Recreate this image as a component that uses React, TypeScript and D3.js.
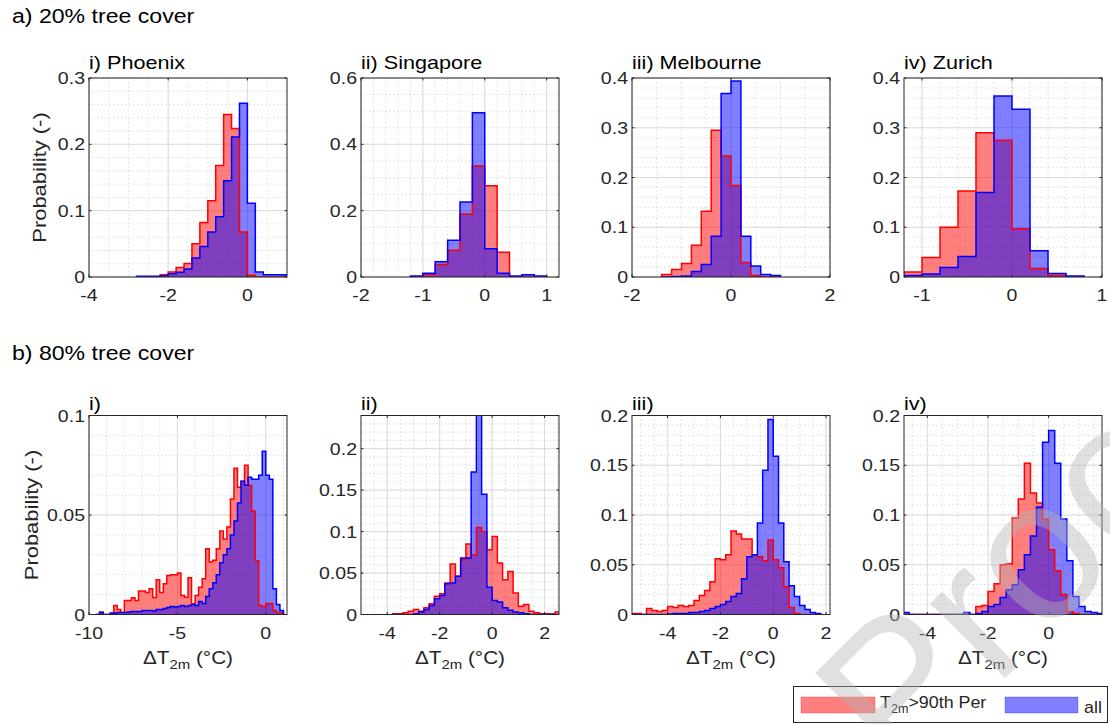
import React from 'react';
import * as d3 from 'd3';

// ---- data: probability per 0.2 degC bin, "hot" = T2m > 90th percentile, "all" = all hours
const BIN = 0.2;

// a) 20% tree cover
const phx20Start = -2.8;
const phx20Hot = [0, 0, 0, 0.0035, 0.0075, 0.0145, 0.0205, 0.05, 0.082, 0.115, 0.168, 0.245, 0.224, 0.068, 0.0025, 0, 0, 0, 0];
const phx20All = [0.001, 0.001, 0.001, 0.002, 0.005, 0.007, 0.012, 0.0285, 0.046, 0.068, 0.091, 0.145, 0.211, 0.262, 0.111, 0.0075, 0.0035, 0.0035, 0.0035];

const sgp20Start = -1.2;
const sgp20Hot = [0.001, 0.008, 0.038, 0.081, 0.19, 0.335, 0.275, 0.075, 0.001, 0, 0];
const sgp20All = [0.003, 0.011, 0.046, 0.111, 0.226, 0.495, 0.085, 0.011, 0.003, 0.007, 0.003];

const mel20Start = -1.4;
const mel20Hot = [0.005, 0.015, 0.027, 0.064, 0.132, 0.295, 0.243, 0.184, 0.029, 0.003, 0, 0];
const mel20All = [0, 0.001, 0.002, 0.011, 0.025, 0.082, 0.369, 0.394, 0.082, 0.022, 0.005, 0.003];

const zrh20Start = -1.2;
const zrh20Hot = [0.01, 0.039, 0.1, 0.173, 0.29, 0.275, 0.097, 0.017, 0.003, 0];
const zrh20All = [0.003, 0.006, 0.019, 0.041, 0.17, 0.364, 0.337, 0.053, 0.007, 0.002];

// b) 80% tree cover
const phx80Start = -9.6;
const phx80Hot = [
  0, 0.0012, 0, 0, 0.0005, 0.0045, 0.0025, 0.001, 0.007, 0.007,
  0.0084, 0.007, 0.0118, 0.0118, 0.011, 0.013, 0.0086, 0.0175, 0.011, 0.0155,
  0.0196, 0.02, 0.02, 0.0208, 0.0096, 0.0087, 0.0185, 0.0054, 0.0096, 0.0137,
  0.018, 0.033, 0.0264, 0.0272, 0.033, 0.042, 0.038, 0.044, 0.058, 0.0735,
  0.064, 0.067, 0.075, 0.065, 0.052, 0.027, 0.0045, 0.004, 0.0055, 0.0055,
  0.002, 0.001, 0.001,
];
const phx80All = [
  0, 0.001, 0, 0, 0.0008, 0.0008, 0.001, 0.001, 0.001, 0.0012,
  0.0015, 0.0015, 0.0015, 0.002, 0.002, 0.002, 0.0018, 0.0025, 0.0025, 0.003,
  0.0035, 0.004, 0.0038, 0.004, 0.0045, 0.004, 0.0045, 0.005, 0.0045, 0.0065,
  0.0055, 0.009, 0.013, 0.016, 0.02, 0.026, 0.03, 0.033, 0.04, 0.047,
  0.056, 0.067, 0.065, 0.069, 0.068, 0.068, 0.07, 0.082, 0.07, 0.068,
  0.013, 0.005, 0.002,
];

const sgp80Start = -3.8;
const sgp80Hot = [
  0.001, 0.001, 0.002, 0.004, 0.006, 0.004, 0.008, 0.013, 0.022, 0.025,
  0.038, 0.061, 0.046, 0.066, 0.085, 0.072, 0.105, 0.1, 0.078, 0.094,
  0.062, 0.042, 0.052, 0.026, 0.01, 0.012, 0.004, 0.002, 0.001, 0.001,
  0.001, 0.003,
];
const sgp80All = [
  0, 0, 0, 0, 0.001, 0.003, 0.006, 0.011, 0.019, 0.023,
  0.037, 0.038, 0.046, 0.068, 0.068, 0.172, 0.3, 0.145, 0.033, 0.017,
  0.015, 0.008, 0.005, 0.003, 0.002, 0.001, 0, 0, 0, 0,
  0, 0,
];

const mel80Start = -5.4;
const mel80Hot = [
  0.001, 0.001, 0, 0.006, 0.004, 0.003, 0.004, 0.008, 0.007, 0.009,
  0.008, 0.009, 0.014, 0.019, 0.024, 0.033, 0.056, 0.055, 0.06, 0.084,
  0.081, 0.076, 0.076, 0.06, 0.058, 0.054, 0.075, 0.055, 0.047, 0.028,
  0.007, 0.001, 0, 0, 0, 0,
];
const mel80All = [
  0, 0, 0, 0, 0, 0, 0, 0.0005, 0.001, 0.001,
  0.001, 0.002, 0.002, 0.003, 0.004, 0.006, 0.008, 0.01, 0.013, 0.018,
  0.021, 0.036, 0.058, 0.06, 0.092, 0.145, 0.196, 0.159, 0.092, 0.053,
  0.029, 0.018, 0.009, 0.005, 0.002, 0.001,
];

const zrh80Start = -4.8;
const zrh80Hot = [
  0, 0, 0, 0, 0, 0, 0, 0, 0, 0,
  0, 0, 0.008, 0.009, 0.023, 0.031, 0.05, 0.051, 0.097, 0.116,
  0.152, 0.122, 0.112, 0.096, 0.065, 0.044, 0.02, 0.003, 0.001, 0,
  0, 0, 0,
];
const zrh80All = [
  0.002, 0, 0, 0, 0, 0, 0, 0, 0, 0,
  0.002, 0, 0.001, 0.003, 0.008, 0.01, 0.017, 0.025, 0.03, 0.045,
  0.06, 0.079, 0.108, 0.173, 0.185, 0.152, 0.096, 0.054, 0.018, 0.008,
  0.003, 0.002, 0.001,
];

const rowTitles = ['a) 20% tree cover', 'b) 80% tree cover'];
const legendLabels = ['>90th Per', 'all'];
const watermark = 'Proof';

// ---- layout
const FONT = '"Liberation Sans", Arial, Helvetica, sans-serif';
const INK = '#262626';
const SX = 1.15; // the source text runs wider than Arial
const PANEL_LEFT = [89, 361, 632, 904];
const PANEL_W = 198;
const PANEL_H = 199;
const ROW_TOP = [78, 415.5];
const HOT_FILL = 'rgba(255,0,0,0.5)';
const ALL_FILL = 'rgba(0,0,255,0.5)';

const panels = [
  { key: 'a1', row: 0, col: 0, title: 'i) Phoenix', start: phx20Start, hot: phx20Hot, all: phx20All,
    xDomain: [-4, 1], yDomain: [0, 0.3], xTicks: [-4, -2, 0], yTicks: [0, 0.1, 0.2, 0.3], xMinor: 0.5, yMinor: 0.02 },
  { key: 'a2', row: 0, col: 1, title: 'ii) Singapore', start: sgp20Start, hot: sgp20Hot, all: sgp20All,
    xDomain: [-2, 1.2], yDomain: [0, 0.6], xTicks: [-2, -1, 0, 1], yTicks: [0, 0.2, 0.4, 0.6], xMinor: 0.2, yMinor: 0.05 },
  { key: 'a3', row: 0, col: 2, title: 'iii) Melbourne', start: mel20Start, hot: mel20Hot, all: mel20All,
    xDomain: [-2, 2], yDomain: [0, 0.4], xTicks: [-2, 0, 2], yTicks: [0, 0.1, 0.2, 0.3, 0.4], xMinor: 0.5, yMinor: 0.02 },
  { key: 'a4', row: 0, col: 3, title: 'iv) Zurich', start: zrh20Start, hot: zrh20Hot, all: zrh20All,
    xDomain: [-1.2, 1], yDomain: [0, 0.4], xTicks: [-1, 0, 1], yTicks: [0, 0.1, 0.2, 0.3, 0.4], xMinor: 0.2, yMinor: 0.02 },
  { key: 'b1', row: 1, col: 0, title: 'i)', start: phx80Start, hot: phx80Hot, all: phx80All,
    xDomain: [-10, 1.2], yDomain: [0, 0.1], xTicks: [-10, -5, 0], yTicks: [0, 0.05, 0.1], xMinor: 1, yMinor: 0.01 },
  { key: 'b2', row: 1, col: 1, title: 'ii)', start: sgp80Start, hot: sgp80Hot, all: sgp80All,
    xDomain: [-5, 2.55], yDomain: [0, 0.24], xTicks: [-4, -2, 0, 2], yTicks: [0, 0.05, 0.1, 0.15, 0.2], xMinor: 0.5, yMinor: 0.01 },
  { key: 'b3', row: 1, col: 2, title: 'iii)', start: mel80Start, hot: mel80Hot, all: mel80All,
    xDomain: [-5.35, 2.15], yDomain: [0, 0.2], xTicks: [-4, -2, 0, 2], yTicks: [0, 0.05, 0.1, 0.15, 0.2], xMinor: 0.5, yMinor: 0.01 },
  { key: 'b4', row: 1, col: 3, title: 'iv)', start: zrh80Start, hot: zrh80Hot, all: zrh80All,
    xDomain: [-4.77, 1.76], yDomain: [0, 0.2], xTicks: [-4, -2, 0], yTicks: [0, 0.05, 0.1, 0.15, 0.2], xMinor: 0.5, yMinor: 0.01 },
];

const fmt = (v: number) => String(+v.toFixed(3));

const minorValues = (dom: number[], step: number) => {
  const out: number[] = [];
  for (let k = Math.ceil(dom[0] / step - 1e-6); k * step < dom[1] - 1e-6; k++) {
    const v = k * step;
    if (v > dom[0] + 1e-6) out.push(v);
  }
  return out;
};

const Txt = ({ x, y, size, anchor = 'start', rotate = 0, sx = SX, fill = INK, children }: any) => (
  <text
    transform={`translate(${x},${y})${rotate ? ` rotate(${rotate})` : ''} scale(${sx},1)`}
    fontSize={size}
    fontFamily={FONT}
    textAnchor={anchor}
    fill={fill}
  >
    {children}
  </text>
);

function HistPanel({ p }: any) {
  const left = PANEL_LEFT[p.col];
  const top = ROW_TOP[p.row];
  const bottom = top + PANEL_H;
  const x = d3.scaleLinear().domain(p.xDomain).range([left, left + PANEL_W]);
  const y = d3.scaleLinear().domain(p.yDomain).range([bottom, top]);

  const steps = (vals: number[]) => [
    [p.start, 0],
    ...vals.map((v, i) => [p.start + i * BIN, v]),
    [p.start + vals.length * BIN, 0],
  ];
  const area = d3.area<number[]>().curve(d3.curveStepAfter)
    .x((d) => x(d[0])).y0(y(0)).y1((d) => y(d[1]));
  const line = d3.line<number[]>().curve(d3.curveStepAfter)
    .x((d) => x(d[0])).y((d) => y(d[1]));

  const clipId = `clip-${p.key}`;
  const xMin = minorValues(p.xDomain, p.xMinor);
  const yMin = minorValues(p.yDomain, p.yMinor);

  return (
    <g>
      <defs>
        <clipPath id={clipId}>
          <rect x={left} y={top} width={PANEL_W} height={PANEL_H} />
        </clipPath>
      </defs>
      <rect x={left} y={top} width={PANEL_W} height={PANEL_H} fill="#fff" />
      {/* minor grid */}
      <g stroke="#cdcdcd" strokeWidth={0.7} strokeDasharray="1.5,2.5">
        {xMin.map((v) => <line key={`xm${v}`} x1={x(v)} x2={x(v)} y1={top} y2={bottom} />)}
        {yMin.map((v) => <line key={`ym${v}`} x1={left} x2={left + PANEL_W} y1={y(v)} y2={y(v)} />)}
      </g>
      {/* major grid */}
      <g stroke="#dcdcdc" strokeWidth={1}>
        {p.xTicks.map((v: number) => <line key={`xg${v}`} x1={x(v)} x2={x(v)} y1={top} y2={bottom} />)}
        {p.yTicks.map((v: number) => <line key={`yg${v}`} x1={left} x2={left + PANEL_W} y1={y(v)} y2={y(v)} />)}
      </g>
      <g clipPath={`url(#${clipId})`}>
        <path d={area(steps(p.hot)) || ''} fill={HOT_FILL} />
        <path d={area(steps(p.all)) || ''} fill={ALL_FILL} />
        <path d={line(steps(p.hot)) || ''} fill="none" stroke="#ff0000" strokeWidth={1.5} />
        <path d={line(steps(p.all)) || ''} fill="none" stroke="#0000ff" strokeWidth={1.5} />
      </g>
      {/* axes box and ticks */}
      <rect x={left} y={top} width={PANEL_W} height={PANEL_H} fill="none" stroke={INK} strokeWidth={1} />
      <g stroke={INK} strokeWidth={1}>
        {p.xTicks.map((v: number) => (
          <g key={`xt${v}`}>
            <line x1={x(v)} x2={x(v)} y1={bottom} y2={bottom - 2.5} />
            <line x1={x(v)} x2={x(v)} y1={top} y2={top + 2.5} />
          </g>
        ))}
        {p.yTicks.map((v: number) => (
          <g key={`yt${v}`}>
            <line x1={left} x2={left + 2.5} y1={y(v)} y2={y(v)} />
            <line x1={left + PANEL_W} x2={left + PANEL_W - 2.5} y1={y(v)} y2={y(v)} />
          </g>
        ))}
      </g>
      {p.xTicks.map((v: number) => (
        <Txt key={`xl${v}`} x={x(v)} y={bottom + 24} size={17} anchor="middle">{fmt(v)}</Txt>
      ))}
      {p.yTicks.map((v: number) => (
        <Txt key={`yl${v}`} x={left - 4} y={y(v) + 6} size={17} anchor="end">{fmt(v)}</Txt>
      ))}
      <Txt x={left} y={p.row === 0 ? 69 : 410} size={18} fill="#000" sx={1.2}>{p.title}</Txt>
      {p.col === 0 && (
        <Txt x={p.row === 0 ? 46 : 38} y={(top + bottom) / 2} size={18} anchor="middle" rotate={-90} sx={1.22}>
          Probability (-)
        </Txt>
      )}
      {p.row === 1 && (
        <Txt x={(left + left + PANEL_W) / 2} y={664} size={18} anchor="middle" sx={1.15}>
          ΔT<tspan fontSize={13} dy={5}>2m</tspan><tspan dy={-5}> (°C)</tspan>
        </Txt>
      )}
    </g>
  );
}

function Legend() {
  return (
    <g>
      <rect x={793.5} y={686.5} width={314} height={36} fill="#fff" stroke={INK} strokeWidth={1} />
      <rect x={801} y={697} width={74} height={16} fill={HOT_FILL} stroke="rgba(255,0,0,0.25)" />
      <Txt x={880} y={708} size={17} sx={1.05}>
        T<tspan fontSize={12} dy={5}>2m</tspan><tspan dy={-5}>{legendLabels[0]}</tspan>
      </Txt>
      <rect x={1005} y={697} width={73} height={16} fill={ALL_FILL} stroke="rgba(0,0,255,0.25)" />
      <Txt x={1084} y={713} size={17} sx={1.05}>{legendLabels[1]}</Txt>
    </g>
  );
}

export default function App() {
  return (
    <svg
      width={1110}
      height={724}
      style={{ position: 'absolute', left: 0, top: 0, background: '#fff' }}
    >
      <rect width={1110} height={724} fill="#fff" />
      <Txt x={12} y={23} size={21} fill="#000" sx={1.1}>{rowTitles[0]}</Txt>
      <Txt x={12} y={360} size={21} fill="#000" sx={1.1}>{rowTitles[1]}</Txt>
      {panels.map((p) => <HistPanel key={p.key} p={p} />)}
      <Legend />
      {/* faint proof watermark across the lower right corner */}
      <text
        transform="translate(901,782) rotate(-45)"
        fontSize={200}
        fontFamily={FONT}
        fill="#b4b4b4"
        fillOpacity={0.42}
      >
        {watermark}
      </text>
    </svg>
  );
}
